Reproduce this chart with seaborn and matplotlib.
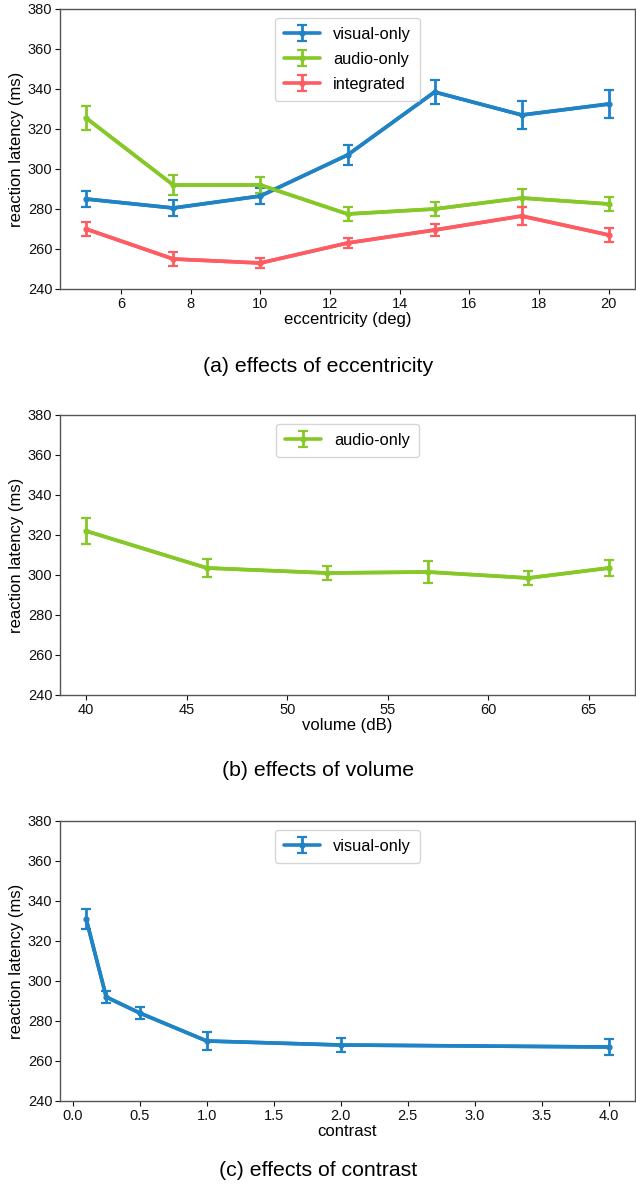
import matplotlib
matplotlib.use("Agg")
import matplotlib.pyplot as plt
import seaborn as sns
import pandas as pd

sns.set_style("white")
plt.rcParams['font.family'] = ['Liberation Sans', 'DejaVu Sans']
plt.rcParams['text.color'] = 'black'
plt.rcParams['axes.labelcolor'] = 'black'

# ---- data ----
ecc = [5, 7.5, 10, 12.5, 15, 17.5, 20]
ecc_visual = [285, 280.5, 286.5, 307, 338.5, 327, 332.5]
ecc_visual_err = [4, 4, 4, 5, 6, 7, 7]
ecc_audio = [325.5, 292, 292, 277.5, 280, 285.5, 282.5]
ecc_audio_err = [6, 5, 4, 3.5, 3.5, 4.5, 3.5]
ecc_integ = [270, 255, 253, 263, 269.5, 276.5, 267]
ecc_integ_err = [3.5, 3.5, 2.5, 2.5, 3, 4.5, 3.5]

volume = [40, 46, 52, 57, 62, 66]
vol_audio = [322, 303.5, 301, 301.5, 298.5, 303.5]
vol_audio_err = [6.5, 4.5, 3.5, 5.5, 3.5, 4]

contrast = [0.1, 0.25, 0.5, 1.0, 2.0, 4.0]
con_visual = [331, 292, 284, 270, 268, 267]
con_visual_err = [5, 3, 3, 4.5, 3.5, 4]

yticks = [240, 260, 280, 300, 320, 340, 360, 380]
captions = ["(a) effects of eccentricity", "(b) effects of volume", "(c) effects of contrast"]
xlabels = ["eccentricity (deg)", "volume (dB)", "contrast"]

BLUE = "#1f83c6"
GREEN = "#86c828"
RED = "#fd5c62"

W, H = 636, 1191
fig = plt.figure(figsize=(W / 100, H / 100), dpi=100)

def rect(top, bottom, left=60, right=635):
    return [left / W, 1 - bottom / H, (right - left) / W, (bottom - top) / H]

axes = [fig.add_axes(rect(9, 289)), fig.add_axes(rect(415, 695)), fig.add_axes(rect(821, 1101))]

def series(ax, x, y, e, color, label):
    df = pd.DataFrame({"x": x, "y": y})
    sns.lineplot(data=df, x="x", y="y", ax=ax, color=color, lw=2.6, legend=False)
    ax.errorbar(x, y, yerr=e, fmt='o-', color=color, lw=2.6, ms=3.5,
                elinewidth=2.0, capsize=3.5, capthick=1.6, label=label)

series(axes[0], ecc, ecc_visual, ecc_visual_err, BLUE, "visual-only")
series(axes[0], ecc, ecc_audio, ecc_audio_err, GREEN, "audio-only")
series(axes[0], ecc, ecc_integ, ecc_integ_err, RED, "integrated")
series(axes[1], volume, vol_audio, vol_audio_err, GREEN, "audio-only")
series(axes[2], contrast, con_visual, con_visual_err, BLUE, "visual-only")

cap_y = [366, 771, 1170]
for ax, xl, cap, cy in zip(axes, xlabels, captions, cap_y):
    ax.set_ylim(240, 380)
    ax.set_yticks(yticks)
    ax.set_xlabel(xl, fontsize=12, labelpad=1)
    ax.set_ylabel("reaction latency (ms)", fontsize=12, labelpad=3)
    ax.tick_params(axis='both', labelsize=10.5, length=3.5, width=0.8, colors="#111111",
                   direction='out', bottom=True, left=True, pad=2)
    for s in ax.spines.values():
        s.set_color("#555555")
        s.set_linewidth(1.0)
    ax.legend(loc="upper center", fontsize=11.8, frameon=True, fancybox=True,
              edgecolor="#cccccc", handlelength=2.2, borderpad=0.55, labelspacing=0.6,
              borderaxespad=0.55)
    fig.text(0.5, 1 - cy / H, cap, ha='center', va='center', fontsize=15.3, color='black')

fig.savefig("out.png", dpi=100)
